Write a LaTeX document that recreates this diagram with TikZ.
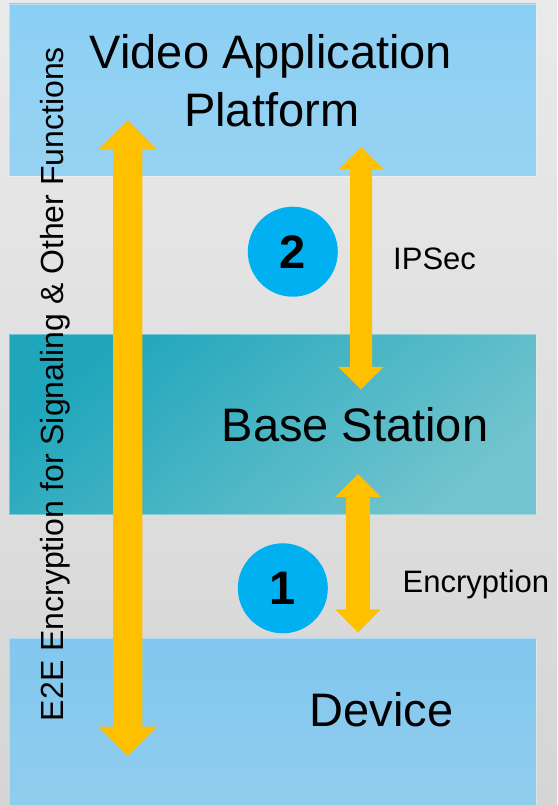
\documentclass[tikz,border=0pt]{standalone}
\usepackage{fontspec}
\setmainfont{Liberation Sans}
\usetikzlibrary{calc}

\definecolor{bgtop}{HTML}{EAEAEA}
\definecolor{bgbot}{HTML}{D5D5D5}
\definecolor{apptop}{HTML}{8CCFF4}
\definecolor{appbot}{HTML}{97D3F2}
\definecolor{bstop}{HTML}{1FA6BB}
\definecolor{bsbot}{HTML}{72C4CE}
\definecolor{devtop}{HTML}{82C7EE}
\definecolor{devbot}{HTML}{90CDEE}
\definecolor{arrowfill}{HTML}{FFC000}
\definecolor{badgefill}{HTML}{00B0F0}

% double-headed block arrow between two named tips
% #1 top tip, #2 bottom tip, #3 shaft half width, #4 head half width, #5 head length
\newcommand{\blockarrow}[5]{%
  \fill[arrowfill] (#1) -- ($(#1)+(#4,#5)$) -- ($(#1)+(#3,#5)$)
    -- ($(#2)+(#3,-#5)$) -- ($(#2)+(#4,-#5)$) -- (#2)
    -- ($(#2)+(-#4,-#5)$) -- ($(#2)+(-#3,-#5)$)
    -- ($(#1)+(-#3,#5)$) -- ($(#1)+(-#4,#5)$) -- cycle;}

\begin{document}
\begin{tikzpicture}[x=1pt,y=-1pt,
  layer/.style={rectangle, inner sep=0pt, minimum width=527pt,
    draw=white, draw opacity=0.35, line width=0.8pt},
  bigtext/.style={font=\fontsize{47}{58}\selectfont, inner sep=0pt, anchor=base},
  smalltext/.style={font=\fontsize{31}{31}\selectfont, inner sep=0pt, anchor=base west},
  badge/.style={circle, fill=badgefill, minimum size=90pt, inner sep=0pt,
    font=\fontsize{47}{47}\selectfont\bfseries}]

\useasboundingbox (0,0) rectangle (557,805);
\shade[top color=bgtop, bottom color=bgbot] (0,0) rectangle (557,805);

% the three layers
\node[layer, minimum height=172pt, top color=apptop, bottom color=appbot]
  (platform) at (272.5,90) {};
\node[layer, minimum height=179.5pt, top color=bstop, bottom color=bsbot, shading angle=40]
  (basestation) at (272.5,424.25) {};
\begin{scope}
  \clip (0,0) rectangle (557,805);
  \node[layer, minimum height=172pt, top color=devtop, bottom color=devbot]
    (device) at (272.5,724.3) {};
\end{scope}

% arrow end points
\coordinate (e2e-top) at (127.7,120);
\coordinate (e2e-bot) at (127.7,755.7);
\coordinate (ipsec-top) at (361,147);
\coordinate (ipsec-bot) at (361,389.3);
\coordinate (enc-top) at (358,474);
\coordinate (enc-bot) at (358,632.3);

\blockarrow{e2e-top}{e2e-bot}{14.7}{29}{29}
\blockarrow{ipsec-top}{ipsec-bot}{11}{22.8}{22.5}
\blockarrow{enc-top}{enc-bot}{11.9}{22.9}{23}

% numbered badges
\node[badge] (badge2) at (292.8,251.7) {2};
\node[badge] (badge1) at (282.8,588.3) {1};

% labels
\node[bigtext] (platform-l1) at (271,68.3) {Video Application};
\node[bigtext] (platform-l2) at (271.7,126.7) {Platform};
\node[bigtext] (basestation-l) at (355,441.7) {Base Station};
\node[bigtext] (device-l) at (381.5,726.7) {Device};
\node[smalltext] (ipsec-l) at (393,269.3) {IPSec};
\node[smalltext] (enc-l) at (402.5,592.3) {Encryption};
\node[font=\fontsize{32}{32}\selectfont, rotate=90, anchor=base, inner sep=0pt]
  (e2e-l) at (63.3,384) {E2E Encryption for Signaling \& Other Functions};
\end{tikzpicture}
\end{document}
